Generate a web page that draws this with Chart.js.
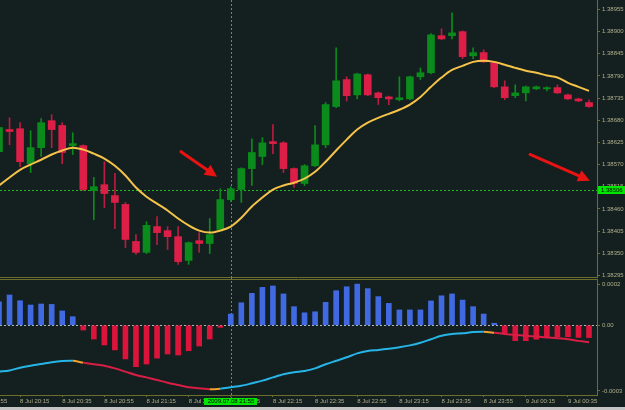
<!DOCTYPE html>
<html><head><meta charset="utf-8">
<script src="https://cdn.jsdelivr.net/npm/chart.js@4.4.1/dist/chart.umd.min.js"></script>
<style>
html,body{margin:0;padding:0;background:#141f20;width:625px;height:410px;overflow:hidden}
#wrap{position:relative;width:625px;height:410px}
canvas{position:absolute;left:0}
#c1{top:0}
#c2{top:277px}
</style></head><body><div id="wrap"><canvas id="c1" width="625" height="282"></canvas><canvas id="c2" width="625" height="133"></canvas></div>
<script>
// ---- data (5-minute EURUSD-like bars, 8 Jul 20:05 .. 9 Jul 00:45) ----
const opens  = [1.38602,1.38657,1.38659,1.38572,1.38612,1.38679,1.38667,1.38617,1.38617,1.38505,1.38520,1.38493,1.38471,1.38379,1.38352,1.38416,1.38406,1.38391,1.38332,1.38381,1.38374,1.38409,1.38483,1.38508,1.38560,1.38590,1.38627,1.38624,1.38560,1.38523,1.38567,1.38619,1.38714,1.38781,1.38743,1.38793,1.38748,1.38738,1.38731,1.38733,1.38788,1.38798,1.38890,1.38890,1.38900,1.38840,1.38848,1.38823,1.38763,1.38741,1.38748,1.38758,1.38758,1.38761,1.38743,1.38733,1.38724];
const highs  = [1.38667,1.38686,1.38674,1.38654,1.38684,1.38694,1.38674,1.38649,1.38619,1.38538,1.38577,1.38548,1.38476,1.38396,1.38428,1.38441,1.38416,1.38416,1.38378,1.38401,1.38436,1.38510,1.38515,1.38562,1.38634,1.38637,1.38669,1.38627,1.38562,1.38570,1.38667,1.38724,1.38860,1.38788,1.38797,1.38795,1.38750,1.38740,1.38788,1.38790,1.38810,1.38895,1.38907,1.38947,1.38902,1.38860,1.38855,1.38825,1.38778,1.38768,1.38765,1.38765,1.38763,1.38768,1.38745,1.38735,1.38731];
const lows   = [1.38597,1.38619,1.38565,1.38550,1.38590,1.38612,1.38572,1.38595,1.38505,1.38433,1.38463,1.38411,1.38364,1.38347,1.38349,1.38371,1.38359,1.38322,1.38322,1.38352,1.38349,1.38406,1.38478,1.38476,1.38518,1.38570,1.38597,1.38550,1.38513,1.38518,1.38565,1.38612,1.38711,1.38728,1.38733,1.38741,1.38719,1.38719,1.38728,1.38731,1.38781,1.38795,1.38880,1.38882,1.38833,1.38833,1.38823,1.38761,1.38731,1.38736,1.38728,1.38756,1.38753,1.38746,1.38731,1.38726,1.38712];
const closes = [1.38662,1.38652,1.38577,1.38612,1.38674,1.38657,1.38600,1.38622,1.38508,1.38515,1.38498,1.38476,1.38384,1.38352,1.38419,1.38401,1.38391,1.38329,1.38376,1.38374,1.38396,1.38483,1.38510,1.38560,1.38600,1.38624,1.38622,1.38560,1.38523,1.38567,1.38619,1.38719,1.38778,1.38741,1.38795,1.38743,1.38736,1.38733,1.38736,1.38788,1.38798,1.38892,1.38882,1.38897,1.38838,1.38848,1.38825,1.38763,1.38736,1.38748,1.38763,1.38763,1.38761,1.38748,1.38733,1.38728,1.38714];
const maValues = [1.38518,1.38538,1.38557,1.38570,1.38582,1.38595,1.38605,1.38612,1.38607,1.38597,1.38585,1.38567,1.38543,1.38513,1.38490,1.38473,1.38456,1.38436,1.38419,1.38406,1.38401,1.38406,1.38416,1.38438,1.38466,1.38488,1.38508,1.38518,1.38525,1.38535,1.38552,1.38577,1.38605,1.38632,1.38657,1.38674,1.38686,1.38696,1.38706,1.38719,1.38738,1.38763,1.38786,1.38805,1.38815,1.38825,1.38828,1.38825,1.38818,1.38810,1.38803,1.38798,1.38791,1.38786,1.38773,1.38763,1.38753];
const histValues = [0.000115,0.000148,0.000120,0.000099,0.000104,0.000102,0.000070,0.000042,-0.000023,-0.000067,-0.000096,-0.000120,-0.000164,-0.000202,-0.000189,-0.000160,-0.000140,-0.000145,-0.000124,-0.000101,-0.000067,-0.000010,0.000055,0.000110,0.000156,0.000185,0.000192,0.000153,0.000091,0.000061,0.000066,0.000112,0.000169,0.000188,0.000201,0.000179,0.000140,0.000107,0.000075,0.000075,0.000075,0.000119,0.000144,0.000153,0.000123,0.000091,0.000055,0.000010,-0.000038,-0.000075,-0.000075,-0.000068,-0.000056,-0.000056,-0.000056,-0.000059,-0.000060];
const signalValues = [-0.000226,-0.000220,-0.000207,-0.000197,-0.000189,-0.000180,-0.000174,-0.000173,-0.000182,-0.000190,-0.000197,-0.000210,-0.000226,-0.000242,-0.000254,-0.000267,-0.000280,-0.000291,-0.000302,-0.000307,-0.000312,-0.000309,-0.000302,-0.000295,-0.000283,-0.000270,-0.000254,-0.000239,-0.000229,-0.000223,-0.000210,-0.000190,-0.000173,-0.000156,-0.000137,-0.000125,-0.000120,-0.000114,-0.000107,-0.000098,-0.000085,-0.000068,-0.000051,-0.000042,-0.000039,-0.000033,-0.000031,-0.000036,-0.000042,-0.000047,-0.000051,-0.000055,-0.000059,-0.000063,-0.000068,-0.000076,-0.000083];
const priceTicks = [1.38295,1.38350,1.38405,1.38460,1.38515,1.38570,1.38625,1.38680,1.38735,1.38790,1.38845,1.38900,1.38955];
const indTicks = [0.0002,0,-0.00032];
const indTickLabels = ['0.0002','0.00','-0.0003'];
const timeTickIdx = [-2,2,6,10,14,18,22,26,30,34,38,42,46,50,54];
const timeTickLabels = ['8 Jul 19:55','8 Jul 20:15','8 Jul 20:35','8 Jul 20:55','8 Jul 21:15','8 Jul 21:35','8 Jul 21:55','8 Jul 22:15','8 Jul 22:35','8 Jul 22:55','8 Jul 23:15','8 Jul 23:35','8 Jul 23:55','9 Jul 00:15','9 Jul 00:35'];
const crossIdx = 22, crossPrice = 1.38506, crossTimeLabel = '2009.07.08 21:55';
const arrows = [ {from:[17.27,1.38602], to:[20.69,1.38540]}, {from:[50.40,1.38595], to:[56.09,1.38530]} ];

// ---- styles ----
const OLIVE='#6e6e2c', TXT='#b0b08a', GREEN='#0b8b1b', RED='#dd1f48', WRED='#b81c40';
const BLUE='#4169e1', HRED='#dc143c', CYAN='#26b5e6', LRED='#d81e44', ORANGE='#f0a030', MA='#f5c34a';
const CROSS='#22bb22', ARROW='#e81313';
const FONT={family:'"Liberation Sans", Arial, sans-serif', size:6};
const X_MIN=0.095, X_MAX=56.758;
const idx = opens.map((_,i)=>i);
const up = i => closes[i] >= opens[i];

function yFit(s){ s.width=28; s.paddingTop=0; s.paddingBottom=0; }
const xScale = extra => Object.assign({type:'linear', min:X_MIN, max:X_MAX, offset:false, bounds:'data', grid:{offset:false, display:false}}, extra);

function drawArrow(ctx,x0,y0,x1,y1){
  const a=Math.atan2(y1-y0,x1-x0), hl=12, hw=6;
  const bx=x1-hl*Math.cos(a), by=y1-hl*Math.sin(a);
  ctx.save(); ctx.strokeStyle=ARROW; ctx.fillStyle=ARROW; ctx.lineWidth=3; ctx.lineCap='round';
  ctx.beginPath(); ctx.moveTo(x0,y0); ctx.lineTo(bx+2*Math.cos(a),by+2*Math.sin(a)); ctx.stroke();
  ctx.beginPath(); ctx.moveTo(x1,y1);
  ctx.lineTo(bx+hw*Math.sin(a),by-hw*Math.cos(a));
  ctx.lineTo(bx-hw*Math.sin(a),by+hw*Math.cos(a)); ctx.closePath(); ctx.fill();
  ctx.restore();
}

const mainPlugin = {
  id:'mainDeco',
  beforeDatasetsDraw(c){
    const ctx=c.ctx, a=c.chartArea, xs=c.scales.x, ys=c.scales.y;
    ctx.save(); ctx.strokeStyle=CROSS; ctx.lineWidth=1; ctx.setLineDash([2,2]);
    const py=Math.round(ys.getPixelForValue(crossPrice))+0.5;
    ctx.beginPath(); ctx.moveTo(a.left,py); ctx.lineTo(a.right,py); ctx.stroke();
    const px=Math.round(xs.getPixelForValue(crossIdx))+0.5;
    ctx.beginPath(); ctx.moveTo(px,a.top); ctx.lineTo(px,a.bottom); ctx.stroke();
    ctx.restore();
  },
  afterDraw(c){
    const ctx=c.ctx, a=c.chartArea, xs=c.scales.x, ys=c.scales.y;
    arrows.forEach(r=>drawArrow(ctx, xs.getPixelForValue(r.from[0]), ys.getPixelForValue(r.from[1]), xs.getPixelForValue(r.to[0]), ys.getPixelForValue(r.to[1])));
    const py=ys.getPixelForValue(crossPrice);
    ctx.save();
    ctx.fillStyle='#00e600'; ctx.fillRect(a.right+1, Math.round(py)-4, 27, 8);
    ctx.fillStyle='#000'; ctx.font='6px "Liberation Sans", Arial, sans-serif'; ctx.textBaseline='middle'; ctx.textAlign='left';
    ctx.fillText(crossPrice.toFixed(5), a.right+4, Math.round(py));
    ctx.restore();
  }
};

new Chart(document.getElementById('c1'), {
  type:'bar',
  data:{datasets:[
    {type:'line', data:idx.map(i=>({x:i,y:maValues[i]})), borderColor:MA, borderWidth:2, pointRadius:0, tension:0.35, order:0, clip:0},
    {type:'bar', data:idx.map(i=>({x:i,y:[opens[i],closes[i]]})), backgroundColor:idx.map(i=>up(i)?GREEN:RED), barThickness:7, grouped:false, minBarLength:1, order:1, clip:0},
    {type:'bar', data:idx.map(i=>({x:i,y:[lows[i],highs[i]]})), backgroundColor:idx.map(i=>up(i)?GREEN:WRED), barThickness:1, grouped:false, order:2, clip:0}
  ]},
  options:{
    responsive:false, animation:false, devicePixelRatio:1,
    layout:{padding:{top:0,left:0,right:0,bottom:5}},
    plugins:{legend:{display:false}, tooltip:{enabled:false}},
    scales:{
      x:xScale({display:false}),
      y:{type:'linear', position:'right', min:1.382908, max:1.389786, bounds:'data', beginAtZero:false,
         afterFit:yFit, afterBuildTicks:s=>{s.ticks=priceTicks.map(v=>({value:v}));},
         ticks:{autoSkip:false, padding:2, color:TXT, font:FONT, callback:v=>Number(v).toFixed(5)},
         grid:{drawOnChartArea:false, drawTicks:true, tickLength:3, color:OLIVE},
         border:{display:true, color:OLIVE, width:1}}
    }
  },
  plugins:[mainPlugin]
});

function segColor(i){
  const rising = signalValues[i+1] > signalValues[i];
  const prev = i>0 ? signalValues[i] > signalValues[i-1] : rising;
  if (rising !== prev) return ORANGE;
  return rising ? CYAN : LRED;
}

const indPlugin = {
  id:'indDeco',
  beforeDatasetsDraw(c){
    const ctx=c.ctx, a=c.chartArea, xs=c.scales.x, ys=c.scales.y;
    ctx.save(); ctx.lineWidth=1;
    ctx.strokeStyle=OLIVE;
    ctx.beginPath(); ctx.moveTo(0,0.5); ctx.lineTo(a.right,0.5); ctx.moveTo(0,a.top+0.5); ctx.lineTo(a.right,a.top+0.5); ctx.stroke();
    ctx.setLineDash([2,2]);
    ctx.strokeStyle='#b8b8b8';
    const zy=Math.round(ys.getPixelForValue(0))+0.5;
    ctx.beginPath(); ctx.moveTo(a.left,zy); ctx.lineTo(a.right,zy); ctx.stroke();
    ctx.strokeStyle=CROSS;
    const px=Math.round(xs.getPixelForValue(crossIdx))+0.5;
    ctx.beginPath(); ctx.moveTo(px,0); ctx.lineTo(px,a.bottom+3); ctx.stroke();
    ctx.restore();
  },
  afterDraw(c){
    const ctx=c.ctx, a=c.chartArea, xs=c.scales.x;
    const px=xs.getPixelForValue(crossIdx);
    ctx.save();
    ctx.fillStyle='#00e600'; ctx.fillRect(Math.round(px)-27, a.bottom+3, 53, 7);
    ctx.fillStyle='#000'; ctx.font='6px "Liberation Sans", Arial, sans-serif'; ctx.textBaseline='middle'; ctx.textAlign='center';
    ctx.fillText(crossTimeLabel, Math.round(px), a.bottom+6.5);
    ctx.fillStyle='#c4c4c4'; ctx.fillRect(0, c.height-3, c.width, 3);
    ctx.restore();
  }
};

new Chart(document.getElementById('c2'), {
  type:'bar',
  data:{datasets:[
    {type:'line', data:idx.map(i=>({x:i,y:signalValues[i]})), borderColor:CYAN, borderWidth:2, pointRadius:0, tension:0.3,
     segment:{borderColor:ctx=>segColor(ctx.p0DataIndex)}, order:0, clip:0},
    {type:'bar', data:idx.map(i=>({x:i,y:histValues[i]})), backgroundColor:histValues.map(v=>v>=0?BLUE:HRED), barThickness:5, grouped:false, order:1, clip:0}
  ]},
  options:{
    responsive:false, animation:false, devicePixelRatio:1,
    layout:{padding:{top:2,left:0,right:0,bottom:0}},
    plugins:{legend:{display:false}, tooltip:{enabled:false}},
    scales:{
      x:xScale({display:true, position:'bottom',
         afterFit:s=>{s.height=15; s.paddingLeft=0; s.paddingRight=0;},
         afterBuildTicks:s=>{s.ticks=timeTickIdx.map(v=>({value:v}));},
         ticks:{autoSkip:false, maxRotation:0, minRotation:0, align:'start', padding:1, color:TXT, font:FONT, callback:(v,i)=>timeTickLabels[i]},
         grid:{offset:false, display:true, drawOnChartArea:false, drawTicks:true, tickLength:2, color:OLIVE},
         border:{display:true, color:OLIVE, width:1}}),
      y:{type:'linear', position:'right', min:-0.00034, max:0.0002259, bounds:'data', beginAtZero:false,
         afterFit:yFit, afterBuildTicks:s=>{s.ticks=indTicks.map(v=>({value:v}));},
         ticks:{autoSkip:false, padding:2, color:TXT, font:FONT, callback:(v,i)=>indTickLabels[i]},
         grid:{drawOnChartArea:false, drawTicks:true, tickLength:3, color:OLIVE},
         border:{display:true, color:OLIVE, width:1}}
    }
  },
  plugins:[indPlugin]
});
</script></body></html>
